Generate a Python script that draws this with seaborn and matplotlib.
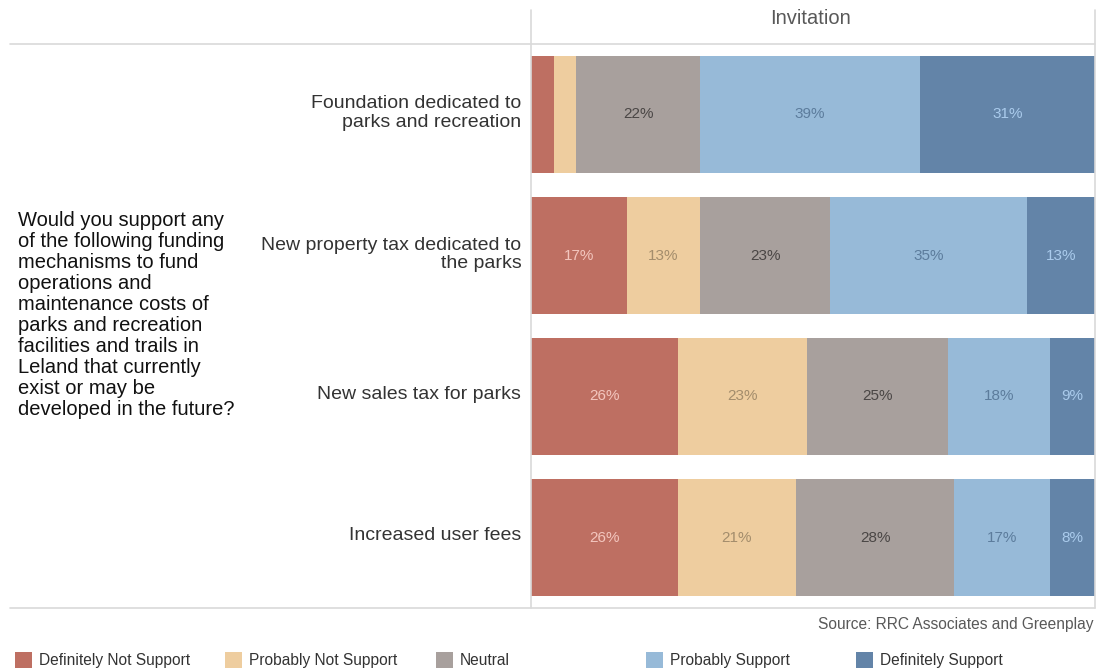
import numpy as np
import pandas as pd
import matplotlib
matplotlib.use("Agg")
import matplotlib.pyplot as plt
import matplotlib.transforms as mtransforms
from matplotlib.lines import Line2D
from matplotlib.patches import Rectangle
import seaborn as sns

# Survey responses (percent) per funding mechanism
mechanisms = [
    "Foundation dedicated to\nparks and recreation",
    "New property tax dedicated to\nthe parks",
    "New sales tax for parks",
    "Increased user fees",
]
responses = [
    "Definitely Not Support",
    "Probably Not Support",
    "Neutral",
    "Probably Support",
    "Definitely Support",
]
definitely_not = [4, 17, 26, 26]
probably_not = [4, 13, 23, 21]
neutral = [22, 23, 25, 28]
probably_yes = [39, 35, 18, 17]
definitely_yes = [31, 13, 9, 8]

bar_colors = ["#BE6F62", "#EECD9F", "#A8A09D", "#97BAD8", "#6384A8"]
label_colors = ["#F3C6BE", "#A38D6C", "#4A4645", "#5C7C9C", "#AACBEC"]

question = ("Would you support any\nof the following funding\nmechanisms to fund\n"
            "operations and\nmaintenance costs of\nparks and recreation\n"
            "facilities and trails in\nLeland that currently\nexist or may be\n"
            "developed in the future?")

sns.set_theme(style="white")
plt.rcParams["font.family"] = ["Liberation Sans", "DejaVu Sans"]

series = [definitely_not, probably_not, neutral, probably_yes, definitely_yes]
values = np.array(series, dtype=float)
cum = np.cumsum(values, axis=0)

fig = plt.figure(figsize=(10.96, 6.71), dpi=100)
W, H = 1096, 671
ax = fig.add_axes([531 / W, 1 - 608 / H, (1095 - 531) / W, (608 - 44) / H])

# Stacked bars: draw cumulative totals from the outermost segment inward
for i in range(len(responses) - 1, -1, -1):
    df = pd.DataFrame({"mechanism": mechanisms, "total": cum[i]})
    sns.barplot(data=df, x="total", y="mechanism", orient="h", order=mechanisms,
                color=bar_colors[i], saturation=1, width=0.835, ax=ax,
                edgecolor="none", linewidth=0)

# Segment value labels
for i in range(len(responses)):
    for j in range(len(mechanisms)):
        v = values[i, j]
        if v < 5:
            continue
        start = cum[i, j] - v
        end = min(cum[i, j], 100)
        ax.text((start + end) / 2, j, f"{int(v)}%", ha="center", va="center",
                fontsize=11, color=label_colors[i])

ax.set_xlim(0, 100)
ax.set_ylim(3.5, -0.5)
ax.set_xlabel("")
ax.set_ylabel("")
ax.set_xticks([])
ax.tick_params(axis="y", length=0, pad=7, labelsize=14, labelcolor="#333333")
lift = mtransforms.ScaledTranslation(0, 4 / 100, fig.dpi_scale_trans)
for lab in ax.get_yticklabels():
    lab.set_linespacing(1.1)
    lab.set_transform(lab.get_transform() + lift)
for s in ax.spines.values():
    s.set_visible(False)

# Frame lines around the table
line_c = "#D9D9D9"
def hline(y, x0, x1):
    fig.add_artist(Line2D([x0 / W, x1 / W], [1 - y / H, 1 - y / H], color=line_c, lw=1.2))
def vline(x, y0, y1):
    fig.add_artist(Line2D([x / W, x / W], [1 - y0 / H, 1 - y1 / H], color=line_c, lw=1.2))
hline(44, 10, 1095)
hline(608, 10, 1095)
vline(531, 10, 608)
vline(1095, 10, 608)

fig.text(811 / W, 1 - 19 / H, "Invitation", ha="center", va="center",
         fontsize=14.5, color="#595959")
fig.text(18 / W, 1 - 315 / H, question, ha="left", va="center", fontsize=14.5,
         color="#111111", linespacing=1.13)
fig.text(1094 / W, 1 - 625 / H, "Source: RRC Associates and Greenplay",
         ha="right", va="center", fontsize=11.2, color="#595959")

# Legend row
for k, (name, col) in enumerate(zip(responses, bar_colors)):
    x0 = 15 + 210.3 * k
    fig.add_artist(Rectangle((x0 / W, 1 - 668 / H), 17 / W, 16 / H,
                             transform=fig.transFigure, facecolor=col,
                             edgecolor="none"))
    fig.text((x0 + 24) / W, 1 - 665 / H, name, ha="left", va="baseline",
             fontsize=11.2, color="#333333")

fig.savefig("out.png", dpi=100)
